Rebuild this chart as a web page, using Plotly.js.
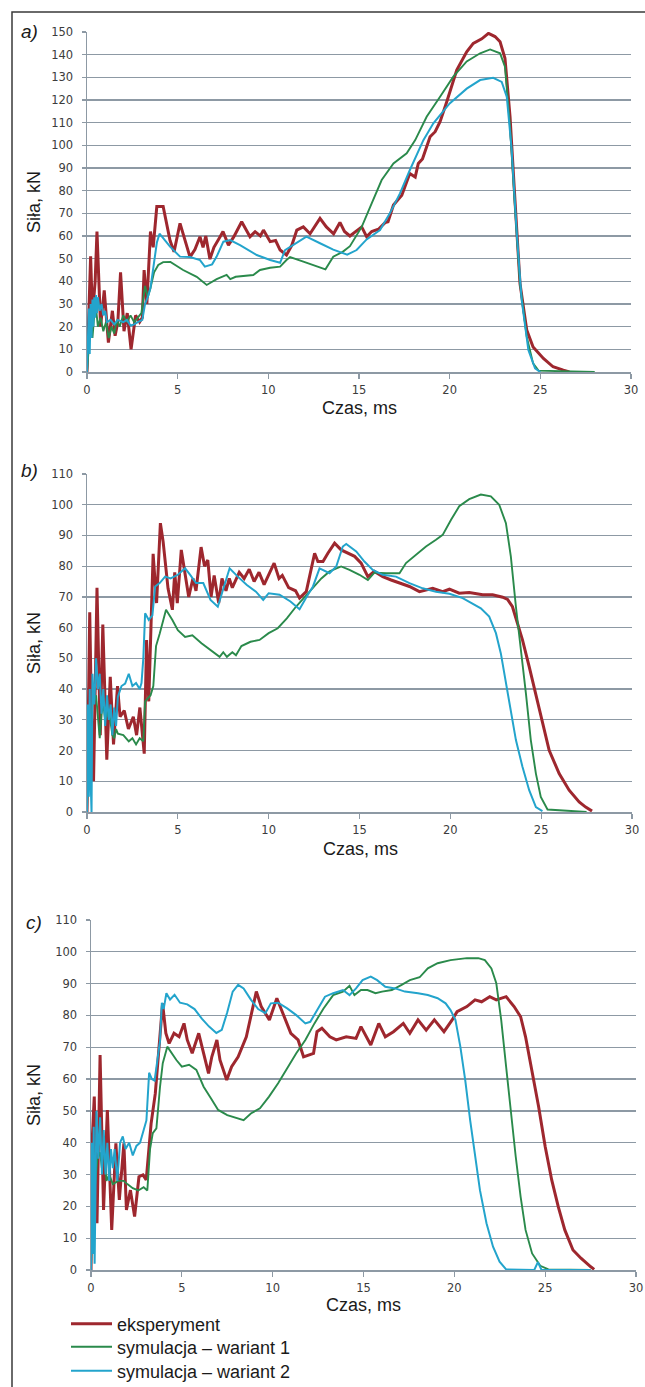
<!DOCTYPE html>
<html>
<head>
<meta charset="utf-8">
<script src="https://cdn.plot.ly/plotly-3.0.1.min.js"></script>
<style>
html,body{margin:0;padding:0;background:#fff;overflow:hidden;width:645px;height:1387px;}
#chart{width:645px;height:1387px;overflow:hidden;}
</style>
</head>
<body>
<div id="chart"></div>
<script>
// ---------- DATA ----------
const xTicks = [0, 5, 10, 15, 20, 25, 30];
const seriesNames = ["eksperyment", "symulacja – wariant 1", "symulacja – wariant 2"];
const panelLabels = ["a)", "b)", "c)"];
const yMaxes = [150, 110, 110];

// Panel a
const aExpT = [0,0.1,0.2,0.3,0.45,0.55,0.75,0.95,1.18,1.4,1.55,1.7,1.85,2.04,2.22,2.43,2.68,2.9,3.05,3.15,3.3,3.5,3.65,3.85,4.0,4.2,4.58,4.8,5.13,5.4,5.68,5.95,6.23,6.4,6.55,6.78,7.0,7.34,7.5,7.8,8.1,8.53,8.99,9.27,9.56,9.73,10.1,10.4,10.65,11.0,11.3,11.57,11.93,12.3,12.67,12.85,13.2,13.6,13.95,14.2,14.5,14.8,15.15,15.42,15.7,16.07,16.44,16.6,16.9,17.36,17.8,18.1,18.27,18.5,18.92,19.2,19.47,19.84,20.1,20.39,20.94,21.3,21.77,22.14,22.5,22.78,23.05,23.33,23.6,23.88,24.25,24.6,25.17,25.7,26.27,26.6];
const aExpF = [0,30,51,25,40,62,20,36,13,27,16,22,44,18,26,10,25,22,24,45,30,62,55,73,73,73,58,53,65.6,58,50.7,54,59.7,55,60,49.8,55,59.7,62,56,59.7,66.3,59.7,61.9,60,62.6,57.5,58,53.8,51.6,56,62.6,64,61,65.6,67.8,64,61,66,62,60,62,64,59.7,62,63,65.9,66.3,73.7,78,87.6,86,92,94,103.8,106,110.4,119.2,126,133.2,141.3,145,147,149.4,148,145.7,138.4,112.6,75.9,39,18.5,11,6,2.3,0.8,0];
const aSim1T = [0,0.1,0.2,0.3,0.4,0.5,0.6,0.75,0.9,1.05,1.2,1.35,1.5,1.65,1.8,2.0,2.2,2.4,2.6,2.8,3.0,3.2,3.35,3.5,3.7,3.93,4.2,4.6,5.3,6.05,6.6,7.15,7.7,7.9,8.2,9.17,9.54,10.1,10.65,11.0,11.2,11.93,12.67,13.15,13.58,14.1,14.5,15.15,15.7,16.25,16.9,17.63,18.1,18.73,19.47,20.2,20.94,21.68,22.23,22.78,23.05,23.33,23.6,23.88,24.25,24.6,24.9,28];
const aSim1F = [0,10,22,15,25,28,20,24,18,22,15,20,17,23,20,25,22,25,22,24,26,38,33,37,44,47.2,48.5,48.6,45,42,38.4,41,42.8,41,42,42.8,45,46,46.5,49.4,50.7,48.7,46.5,45.3,50.9,53,55.5,64,74.4,84.7,92,96.5,102.3,112.6,121.4,130.3,137,140.6,142.3,140.6,134.7,108.2,73,39,15.6,3.8,0.6,0];
const aSim2T = [0,0.05,0.1,0.15,0.2,0.25,0.3,0.35,0.4,0.45,0.5,0.55,0.6,0.7,0.8,0.9,1.0,1.1,1.3,1.5,1.7,2.0,2.2,2.4,2.6,2.8,3.05,3.2,3.35,3.5,3.65,3.85,4.0,4.2,4.58,5.13,5.68,6.23,6.5,6.9,7.15,7.52,7.89,8.44,9.36,10.1,10.65,10.92,11.38,12.1,12.85,13.58,14.35,14.87,15.42,16.16,16.7,17.26,17.8,18.55,19.1,20.0,20.94,21.68,22.4,22.87,23.15,23.42,23.7,23.97,24.34,24.71,25.0];
const aSim2F = [0,12,28,8,30,15,32,20,33,24,34,26,33,27,30,25,27,22,23,21,23,22,23,20.5,21,22,23,30,33,37,45,57,61,59,55.3,50.9,50.7,49.4,46.5,47.5,50.9,57.5,58.2,56,51.6,49.4,48.2,53.8,56,59.7,56.8,54,51.8,53.8,58.5,62.6,70,78.8,89,102.3,109.7,118.5,125,128.8,129.8,128,121.4,98,61.2,31.8,9.7,1.6,0];

// Panel b
const bExpT = [0,0.08,0.15,0.25,0.36,0.55,0.73,0.87,1.09,1.28,1.46,1.68,1.82,2.05,2.28,2.55,2.73,2.91,3.15,3.28,3.4,3.64,3.83,4.04,4.19,4.46,4.7,4.83,4.97,5.19,5.37,5.6,5.83,6.0,6.28,6.47,6.65,6.83,7.0,7.25,7.43,7.65,7.83,8.0,8.38,8.65,8.93,9.2,9.47,9.75,10.3,10.57,10.75,11.1,11.48,11.7,12.07,12.53,12.71,12.99,13.26,13.63,13.99,14.36,14.73,15.09,15.46,15.82,16.28,16.74,17.2,17.75,18.3,19.03,19.58,19.95,20.49,21.04,21.78,22.33,22.88,23.15,23.42,23.7,23.97,24.34,24.7,25.07,25.44,25.99,26.54,27.09,27.45,27.8];
const bExpF = [0,40,65,30,10,73,25,61,17,44,22,41,31,33,27,31,25,34,19,56,36,84,68,94,88,72.8,65.8,78,68,85.3,78,70,76,72,86.2,80,82,70,77,68,76,72,76,73,78,76,79,75,78,74,81,76,77,73,72,69.6,71.7,84.2,81.5,81.5,84.2,87.5,85.3,84.2,83.2,81,76.6,78.3,76.6,75.5,74.5,73.4,71.7,72.8,71.7,72.5,71.2,71.4,70.7,70.7,69.9,69.2,66.8,61.4,56,47.3,38.6,28.8,20.1,12.5,7.1,3.3,1.6,0.3];
const bSim1T = [0,0.1,0.2,0.3,0.5,0.6,0.7,0.8,0.9,1.0,1.2,1.4,1.5,1.6,1.7,2.0,2.3,2.5,2.7,2.9,3.1,3.2,3.5,3.65,3.8,4.0,4.35,4.7,5.0,5.4,5.8,6.3,6.9,7.3,7.5,7.7,8.0,8.2,8.5,9.0,9.5,10.0,10.5,11.0,11.5,12.0,12.5,12.9,13.35,13.99,14.45,15.0,15.46,15.82,16.47,17.2,17.56,18.11,18.66,19.21,19.58,20.04,20.49,21.04,21.68,22.23,22.69,23.06,23.33,23.61,23.88,24.16,24.43,24.71,24.98,25.35,27.5];
const bSim1F = [0,30,25,35,38,30,24,32,35,30,33,25,24,27,25.5,25,23,24,22,24,23,36,38,41,54,58,65.8,62.5,59.2,57,57.5,54.9,52.2,50.5,52,50.5,52,51,54,55.4,56,58.2,59.8,63,66.8,70.1,73.4,76,78.3,79.9,78.8,77.2,75.5,77.9,77.7,77.7,81,83.7,86.4,88.6,90.2,95.1,99.5,101.8,103.3,102.7,100,94,83.2,66.8,53.8,38.6,23.4,12.5,4.9,0.8,0];
const bSim2T = [0,0.05,0.1,0.15,0.2,0.25,0.3,0.4,0.5,0.6,0.7,0.8,0.9,1.0,1.1,1.2,1.3,1.4,1.5,1.6,1.7,1.9,2.1,2.3,2.5,2.7,2.9,3.0,3.1,3.2,3.4,3.6,3.75,4.0,4.3,4.6,5.0,5.4,5.7,6.0,6.4,6.8,7.2,7.5,7.85,8.3,8.8,9.3,9.7,10.0,10.6,11.2,11.7,12.1,12.44,12.8,13.35,13.72,14.08,14.27,14.82,15.27,15.73,16.28,17.01,17.75,18.48,19.21,19.95,20.68,21.23,21.68,22.14,22.51,22.78,23.06,23.33,23.61,23.97,24.34,24.71,25.07];
const bSim2F = [0,35,5,40,10,0,45,35,50,40,45,32,40,28,38,30,35,25,34,28,37.5,41,41.8,45,41,42,40,42,50,64.7,62.5,64,73.4,74.5,76.6,76,77.2,79.3,77,74.5,74.5,69,66.8,72.3,79.3,76.6,73.9,71.7,69,71.2,70.7,68.5,66,70.1,73.4,79.3,77.7,79.9,86.4,87.2,84.8,81.5,78.8,77.2,76.6,74.5,72.8,71.7,71,69.6,67.9,66.3,63.6,58.2,51.6,41.8,32.1,23.4,14.7,7.1,1.6,0.3];

// Panel c
const cExpT = [0,0.05,0.18,0.33,0.5,0.69,0.9,1.14,1.37,1.56,1.81,1.95,2.17,2.4,2.64,2.86,3.04,3.31,3.54,3.76,3.94,4.12,4.3,4.57,4.85,5.12,5.3,5.57,5.93,6.2,6.47,6.65,6.93,7.1,7.47,7.74,8.1,8.55,8.86,9.1,9.37,9.82,10.23,10.63,11.0,11.4,11.7,12.25,12.44,12.71,13.15,13.5,14.05,14.59,14.86,15.4,15.84,16.2,16.65,17.19,17.55,18.0,18.45,18.9,19.43,19.88,20.15,20.69,21.14,21.5,21.95,22.31,22.85,23.29,23.65,23.92,24.28,24.64,25.0,25.36,25.72,26.08,26.53,26.97,27.51,27.7];
const cExpF = [0,38.8,54.5,14.7,67.6,18.9,50.3,12.6,39.8,22,39.8,18.9,25.1,16.8,29.3,29.9,28.3,46.1,55.5,70.2,83.8,74.4,71.2,74.4,73.3,77.5,72.3,68.1,74.4,68.1,61.8,67,72.3,66,59.7,63.9,67,73.3,81.7,87.5,82.8,78.6,85.4,79.6,74.4,72.3,67,68.1,74.9,76,73.3,72.3,73.3,72.8,76.5,70.7,77.5,73.3,74.9,77.5,74.4,78.6,75.4,78.6,74.9,78.6,81.2,82.8,84.9,84.3,85.9,84.9,85.9,82.8,79.6,73.3,62.9,51.3,38.8,28.3,19.9,12.6,6.3,3.7,1,0.2];
const cSim1T = [0,0.1,0.2,0.35,0.5,0.6,0.7,0.85,1.0,1.2,1.5,1.8,2.0,2.3,2.6,2.9,3.1,3.25,3.4,3.6,3.8,3.95,4.2,4.4,4.7,5.0,5.4,5.8,6.2,6.6,7.0,7.5,8.0,8.4,8.8,9.3,9.8,10.3,10.8,11.3,11.8,12.3,12.8,13.33,13.87,14.23,14.5,14.86,15.22,15.66,16.02,16.56,17.1,17.55,18.09,18.54,19.08,19.79,20.69,21.32,21.68,22.04,22.31,22.58,22.85,23.11,23.38,23.65,23.92,24.28,24.73,25.18,27.5];
const cSim1F = [0,30,25,35,37,32,40,28,30,27,28,28,27,25.7,25,26,25,38,43,44.5,57.6,65,70.2,68.5,66,63.9,64.5,62.9,57.6,54,50.3,48.7,47.7,47.1,49.2,50.8,54.5,58.7,63.4,68.1,72.3,77.5,82.2,86.4,87.5,89.3,86.4,88,88,87,87.5,88,89.6,91.1,92,94.8,96.4,97.4,98,98,97.4,94.8,90.1,78.6,63.9,49.2,35.6,23,12.6,5.2,1.3,0.2,0];
const cSim2T = [0,0.05,0.1,0.15,0.2,0.25,0.3,0.4,0.5,0.6,0.7,0.8,0.9,1.0,1.1,1.2,1.3,1.45,1.6,1.75,1.9,2.1,2.3,2.5,2.7,2.9,3.05,3.2,3.35,3.5,3.65,3.8,3.9,4.0,4.15,4.35,4.6,4.9,5.3,5.7,6.1,6.5,6.9,7.2,7.5,7.8,8.1,8.4,8.8,9.2,9.6,9.9,10.3,10.8,11.3,11.8,12.07,12.43,12.88,13.33,13.87,14.23,14.59,14.95,15.4,15.75,16.2,16.74,17.28,18.0,18.54,19.08,19.52,19.79,20.06,20.33,20.6,20.87,21.14,21.41,21.77,22.13,22.49,22.85,24.4,24.6,24.8,27.5];
const cSim2F = [0,40,5,45,2,35,50,35,48,30,44,30,40,28,38,32,38,28,40,42,38,40,36,39,40,44,47,62,60,59.5,66,72,84,82,87,85,86.5,84,83.5,82,79,76.5,74.5,75.5,81,87.5,89.6,88.5,85,82,80.7,83.8,84,82.2,80.1,77.5,78,81.7,85.9,87,88,86.4,88.5,91.1,92.2,91.1,89,88.5,87.5,87,86.4,85.4,83.8,81.7,78.6,70.2,59.7,47.1,35.6,25.1,14.7,7.3,2.6,0.2,0,2.5,0,0];

// ---------- STYLE ----------
const W = 645, H = 1387;
const colors = ["#9e272e", "#2a8a4b", "#23a4cc"];
const widths = [3, 1.9, 2];
const gridColor = "#8d99a4";
const tickFont = {family: "DejaVu Sans, Verdana, sans-serif", size: 11.5, color: "#3c3c3c"};
const textFamily = "Liberation Sans, Arial, sans-serif";

const px = x => x / W;
const py = y => 1 - y / H;

// pixel layout of each panel [left, right, top, bottom]
const boxes = [
  [87, 631, 32, 372],
  [87, 632, 474, 812],
  [91, 636, 920, 1270]
];
const labelPos = [[29, 31], [29, 470], [34, 922]];
const xTitlePos = [[359, 408], [361, 849], [363, 1305]];
const legendRows = [1324, 1347, 1371];

const panelData = [
  [[aExpT, aExpF], [aSim1T, aSim1F], [aSim2T, aSim2F]],
  [[bExpT, bExpF], [bSim1T, bSim1F], [bSim2T, bSim2F]],
  [[cExpT, cExpF], [cSim1T, cSim1F], [cSim2T, cSim2F]]
];

const traces = [];
const layout = {
  width: W, height: H, autosize: false,
  margin: {l: 0, r: 0, t: 0, b: 0, pad: 0, autoexpand: false},
  paper_bgcolor: "#ffffff", plot_bgcolor: "#ffffff",
  showlegend: true,
  annotations: [],
  shapes: [{
    type: "rect", xref: "paper", yref: "paper",
    x0: px(12), x1: px(700), y0: py(12), y1: py(1450),
    line: {color: "#3a3a3a", width: 1.5}, fillcolor: "rgba(0,0,0,0)"
  }]
};
const legendKeys = ["legend", "legend2", "legend3"];
legendKeys.forEach((key, k) => {
  layout[key] = {
    x: px(66), y: py(legendRows[k]), xanchor: "left", yanchor: "middle",
    font: {family: textFamily, size: 18, color: "#1a1a1a"},
    bgcolor: "rgba(0,0,0,0)", borderwidth: 0, itemwidth: 41
  };
});

panelData.forEach((series, p) => {
  const sfx = p === 0 ? "" : String(p + 1);
  const [l, r, t, b] = boxes[p];
  series.forEach((s, k) => {
    traces.push({
      type: "scatter", mode: "lines",
      x: s[0], y: s[1],
      xaxis: "x" + sfx, yaxis: "y" + sfx,
      name: seriesNames[k],
      legend: legendKeys[k],
      showlegend: p === 2,
      line: {color: colors[k], width: widths[k], shape: "linear"},
      hoverinfo: "skip"
    });
  });
  const yTicks = [];
  for (let v = 0; v <= yMaxes[p]; v += 10) yTicks.push(v);
  layout["xaxis" + sfx] = {
    domain: [px(l), px(r)], anchor: "y" + sfx,
    range: [0, 30], tickmode: "array", tickvals: xTicks, ticktext: xTicks.map(String),
    showgrid: false, zeroline: false, automargin: false,
    showline: true, linecolor: gridColor, linewidth: 1.5,
    ticks: "outside", ticklen: 5, tickcolor: gridColor, tickwidth: 1.2,
    tickfont: tickFont, ticklabelstandoff: 2, fixedrange: true
  };
  layout["yaxis" + sfx] = {
    domain: [py(b), py(t)], anchor: "x" + sfx,
    range: [0, yMaxes[p]], tickmode: "array", tickvals: yTicks, ticktext: yTicks.map(String),
    showgrid: true, gridcolor: gridColor, gridwidth: 1.3,
    zeroline: false, automargin: false,
    showline: true, linecolor: gridColor, linewidth: 1.5,
    ticks: "outside", ticklen: 4, tickcolor: gridColor, tickwidth: 1.2,
    tickfont: tickFont, ticklabelstandoff: 6, fixedrange: true
  };
  layout.annotations.push({
    xref: "paper", yref: "paper", x: px(labelPos[p][0]), y: py(labelPos[p][1]),
    xanchor: "center", yanchor: "middle", showarrow: false,
    text: "<i>" + panelLabels[p] + "</i>",
    font: {family: textFamily, size: 19, color: "#1a1a1a"}
  });
  layout.annotations.push({
    xref: "paper", yref: "paper", x: px(xTitlePos[p][0]), y: py(xTitlePos[p][1]),
    xanchor: "center", yanchor: "middle", showarrow: false,
    text: "Czas, ms",
    font: {family: textFamily, size: 18, color: "#1a1a1a"}
  });
  layout.annotations.push({
    xref: "paper", yref: "paper", x: px(34), y: py((t + b) / 2),
    xanchor: "center", yanchor: "middle", showarrow: false, textangle: -90,
    text: "Siła, kN",
    font: {family: textFamily, size: 18, color: "#1a1a1a"}
  });
});

Plotly.newPlot("chart", traces, layout, {staticPlot: true, displayModeBar: false});
</script>
</body>
</html>
